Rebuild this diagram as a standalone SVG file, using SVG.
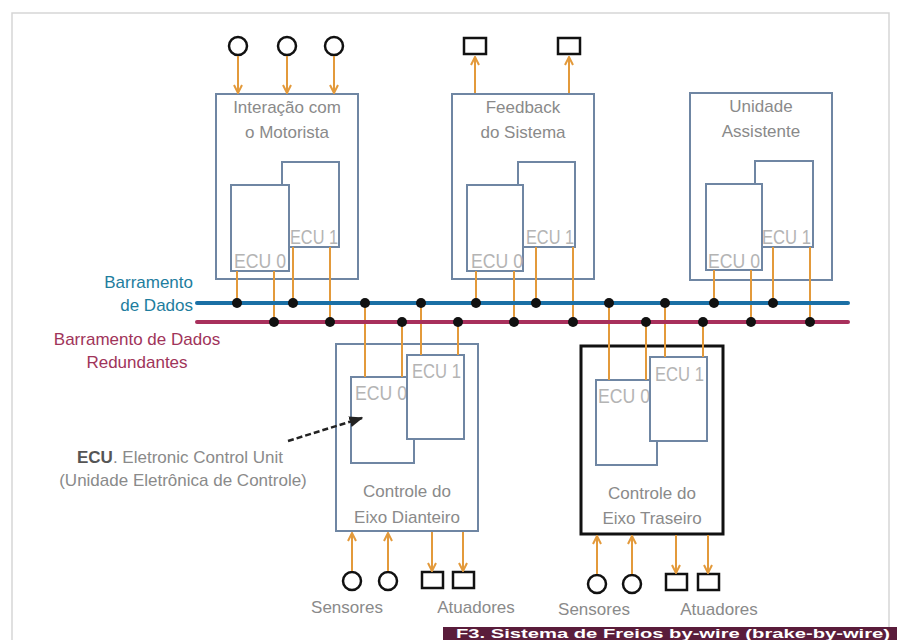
<svg xmlns="http://www.w3.org/2000/svg" width="897" height="640" viewBox="0 0 897 640">
<defs>
<marker id="chev" viewBox="0 0 10 10" refX="9" refY="5" markerWidth="10" markerHeight="10" markerUnits="userSpaceOnUse" orient="auto">
<path d="M1,1 L9,5 L1,9" fill="none" stroke="#e39a3b" stroke-width="2"/>
</marker>
<marker id="blk" viewBox="0 0 10 10" refX="9" refY="5" markerWidth="14" markerHeight="14" markerUnits="userSpaceOnUse" orient="auto">
<path d="M0,1 L10,5 L0,9 Z" fill="#222"/>
</marker>
<style>
text{font-family:"Liberation Sans",Arial,sans-serif;}
.box{fill:#fff;stroke:#6f86a3;stroke-width:2;}
.ecu{fill:#fff;stroke:#6f86a3;stroke-width:2;}
.ecut{font-size:21px;fill:#b4b4b4;}
.lbl{font-size:17px;fill:#8a8a8a;text-anchor:middle;}
.io{fill:none;stroke:#111;stroke-width:2.5;}
.arr{stroke:#e39a3b;stroke-width:2;marker-end:url(#chev);}
.wire{stroke:#e39a3b;stroke-width:2;}
.dot{fill:#111;}
</style>
</defs>
<rect x="0" y="0" width="897" height="640" fill="#fff"/>
<rect x="12" y="13" width="877" height="640" fill="none" stroke="#d6d6d6" stroke-width="1.5"/>

<g id="bus-labels">
<text x="193" y="288" font-size="17" fill="#1e7d9e" text-anchor="end">Barramento</text>
<text x="193" y="311" font-size="17" fill="#1e7d9e" text-anchor="end">de Dados</text>
<text x="137" y="345" font-size="17" fill="#a0345a" text-anchor="middle">Barramento de Dados</text>
<text x="137" y="368" font-size="17" fill="#a0345a" text-anchor="middle">Redundantes</text>
</g>

<g id="node-interacao">
<rect class="box" x="216" y="94" width="142" height="185"/>
<text class="lbl" x="287" y="113">Interação com</text>
<text class="lbl" x="287" y="138">o Motorista</text>
<rect class="ecu" x="282" y="162" width="57" height="85"/>
<text class="ecut" x="290" y="244" textLength="48" lengthAdjust="spacingAndGlyphs">ECU 1</text>
<rect class="ecu" x="231" y="185" width="58" height="86"/>
<text class="ecut" x="234" y="268" textLength="52" lengthAdjust="spacingAndGlyphs">ECU 0</text>
</g>

<g id="node-feedback">
<rect class="box" x="452" y="94" width="142" height="185"/>
<text class="lbl" x="523" y="113">Feedback</text>
<text class="lbl" x="523" y="138">do Sistema</text>
<rect class="ecu" x="518" y="162" width="57" height="85"/>
<text class="ecut" x="526" y="244" textLength="48" lengthAdjust="spacingAndGlyphs">ECU 1</text>
<rect class="ecu" x="467" y="185" width="56" height="86"/>
<text class="ecut" x="471" y="268" textLength="52" lengthAdjust="spacingAndGlyphs">ECU 0</text>
</g>

<g id="node-unidade">
<rect class="box" x="690" y="93" width="142" height="187"/>
<text class="lbl" x="761" y="112">Unidade</text>
<text class="lbl" x="761" y="137">Assistente</text>
<rect class="ecu" x="755" y="161" width="58" height="86"/>
<text class="ecut" x="762" y="244" textLength="49" lengthAdjust="spacingAndGlyphs">ECU 1</text>
<rect class="ecu" x="706" y="184" width="56" height="86"/>
<text class="ecut" x="708" y="268" textLength="52" lengthAdjust="spacingAndGlyphs">ECU 0</text>
</g>

<g id="node-dianteiro">
<rect class="box" x="336" y="344" width="142" height="187"/>
<rect class="ecu" x="351" y="377" width="63" height="86"/>
<text class="ecut" x="355" y="400" textLength="52" lengthAdjust="spacingAndGlyphs">ECU 0</text>
<rect class="ecu" x="407" y="355" width="57" height="84"/>
<text class="ecut" x="412" y="378" textLength="49" lengthAdjust="spacingAndGlyphs">ECU 1</text>
<text class="lbl" x="407" y="497">Controle do</text>
<text class="lbl" x="407" y="523">Eixo Dianteiro</text>
</g>

<g id="node-traseiro">
<rect x="581" y="346" width="142" height="188" fill="#fff" stroke="#111" stroke-width="3"/>
<rect class="ecu" x="596" y="380" width="61" height="85"/>
<text class="ecut" x="598" y="403" textLength="52" lengthAdjust="spacingAndGlyphs">ECU 0</text>
<rect class="ecu" x="650" y="357" width="57" height="84"/>
<text class="ecut" x="655" y="381" textLength="49" lengthAdjust="spacingAndGlyphs">ECU 1</text>
<text class="lbl" x="652" y="499">Controle do</text>
<text class="lbl" x="652" y="524">Eixo Traseiro</text>
</g>

<g id="io-elements">
<circle class="io" cx="238" cy="46" r="9"/>
<circle class="io" cx="287" cy="46" r="9"/>
<circle class="io" cx="334" cy="46" r="9"/>
<rect class="io" x="464" y="38" width="22" height="16"/>
<rect class="io" x="558" y="38" width="22" height="16"/>
<circle class="io" cx="352" cy="581" r="9"/>
<circle class="io" cx="388" cy="581" r="9"/>
<rect class="io" x="422" y="572" width="21" height="16"/>
<rect class="io" x="453" y="572" width="21" height="16"/>
<circle class="io" cx="597" cy="584" r="9"/>
<circle class="io" cx="632" cy="584" r="9"/>
<rect class="io" x="666" y="574" width="21" height="16"/>
<rect class="io" x="698" y="574" width="21" height="16"/>
<text class="lbl" x="347" y="613">Sensores</text>
<text class="lbl" x="476" y="613">Atuadores</text>
<text class="lbl" x="594" y="615">Sensores</text>
<text class="lbl" x="719" y="615">Atuadores</text>
</g>

<g id="connectors">
<line class="arr" x1="238" y1="56" x2="238" y2="93"/>
<line class="arr" x1="287" y1="56" x2="287" y2="93"/>
<line class="arr" x1="334" y1="56" x2="334" y2="93"/>
<line class="arr" x1="475" y1="93" x2="475" y2="57"/>
<line class="arr" x1="569" y1="93" x2="569" y2="57"/>
<line class="arr" x1="352" y1="571" x2="352" y2="533"/>
<line class="arr" x1="388" y1="571" x2="388" y2="533"/>
<line class="arr" x1="432" y1="532" x2="432" y2="571"/>
<line class="arr" x1="463" y1="532" x2="463" y2="571"/>
<line class="arr" x1="597" y1="574" x2="597" y2="536"/>
<line class="arr" x1="632" y1="574" x2="632" y2="536"/>
<line class="arr" x1="676" y1="535" x2="676" y2="573"/>
<line class="arr" x1="708" y1="535" x2="708" y2="573"/>

<line class="wire" x1="237" y1="271" x2="237" y2="303"/>
<line class="wire" x1="274" y1="271" x2="274" y2="322"/>
<line class="wire" x1="293" y1="247" x2="293" y2="303"/>
<line class="wire" x1="330" y1="247" x2="330" y2="322"/>
<line class="wire" x1="476" y1="271" x2="476" y2="303"/>
<line class="wire" x1="514" y1="271" x2="514" y2="322"/>
<line class="wire" x1="536" y1="247" x2="536" y2="303"/>
<line class="wire" x1="573" y1="247" x2="573" y2="322"/>
<line class="wire" x1="714" y1="270" x2="714" y2="303"/>
<line class="wire" x1="751" y1="270" x2="751" y2="322"/>
<line class="wire" x1="773" y1="247" x2="773" y2="303"/>
<line class="wire" x1="810" y1="247" x2="810" y2="322"/>
<line class="wire" x1="365" y1="303" x2="365" y2="377"/>
<line class="wire" x1="402" y1="322" x2="402" y2="377"/>
<line class="wire" x1="421" y1="303" x2="421" y2="355"/>
<line class="wire" x1="458" y1="322" x2="458" y2="355"/>
<line class="wire" x1="609" y1="303" x2="609" y2="380"/>
<line class="wire" x1="646" y1="322" x2="646" y2="380"/>
<line class="wire" x1="665" y1="303" x2="665" y2="357"/>
<line class="wire" x1="703" y1="322" x2="703" y2="357"/>

<line x1="197" y1="303" x2="848" y2="303" stroke="#1a6fa5" stroke-width="4" stroke-linecap="round"/>
<line x1="197" y1="322" x2="848" y2="322" stroke="#a8305c" stroke-width="4" stroke-linecap="round"/>

<g class="dot">
<circle cx="237" cy="303" r="5"/><circle cx="293" cy="303" r="5"/>
<circle cx="476" cy="303" r="5"/><circle cx="536" cy="303" r="5"/>
<circle cx="714" cy="303" r="5"/><circle cx="773" cy="303" r="5"/>
<circle cx="365" cy="303" r="5"/><circle cx="421" cy="303" r="5"/>
<circle cx="609" cy="303" r="5"/><circle cx="665" cy="303" r="5"/>
<circle cx="274" cy="322" r="5"/><circle cx="330" cy="322" r="5"/>
<circle cx="514" cy="322" r="5"/><circle cx="573" cy="322" r="5"/>
<circle cx="751" cy="322" r="5"/><circle cx="810" cy="322" r="5"/>
<circle cx="402" cy="322" r="5"/><circle cx="458" cy="322" r="5"/>
<circle cx="646" cy="322" r="5"/><circle cx="703" cy="322" r="5"/>
</g>

<line x1="288" y1="441" x2="362" y2="418" stroke="#222" stroke-width="2.5" stroke-dasharray="6,3" marker-end="url(#blk)"/>
</g>

<g id="ecu-note">
<text x="77" y="463" font-size="17" fill="#8a8a8a"><tspan font-weight="bold" fill="#555">ECU</tspan>. Eletronic Control Unit</text>
<text x="183" y="486" font-size="17" fill="#8a8a8a" text-anchor="middle">(Unidade Eletrônica de Controle)</text>
</g>

<g id="caption">
<rect x="443" y="627" width="454" height="13" fill="#5a1d3b"/>
<text x="456" y="638" font-size="13" font-weight="bold" fill="#fff" textLength="434" lengthAdjust="spacingAndGlyphs">F3. Sistema de Freios by-wire (brake-by-wire)</text>
</g>
</svg>
